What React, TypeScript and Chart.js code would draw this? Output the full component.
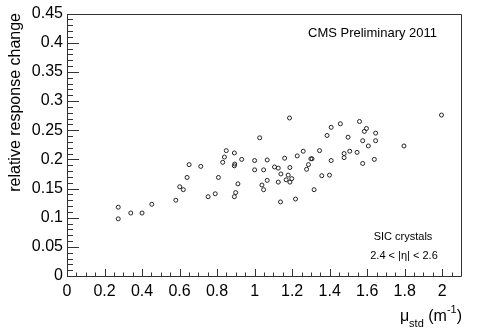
import React, { useEffect, useRef } from "react";
import { Chart, registerables } from "chart.js";

Chart.register(...registerables);

const xValues = [
  0.273, 0.273, 0.34, 0.4, 0.452, 0.58, 0.601, 0.62, 0.64, 0.752, 0.79, 0.807,
  1.186, 1.027, 1.408, 1.386, 0.849, 0.892, 0.839, 0.83, 0.931, 0.892, 0.894,
  0.651, 0.713, 0.911, 0.899, 0.892, 1.0, 1.067, 1.0, 1.048, 1.067, 1.039,
  1.048, 1.106, 1.126, 1.16, 1.14, 1.188, 1.179, 1.168, 1.198, 1.188, 1.126,
  1.227, 1.259, 1.3, 1.306, 1.287, 1.277, 1.346, 1.408, 1.358, 1.399, 1.317,
  1.138, 1.218, 1.996, 1.796, 1.559, 1.457, 1.596, 1.585, 1.645, 1.498, 1.576,
  1.645, 1.606, 1.507, 1.546, 1.477, 1.477, 1.638, 1.576,
];
const yValues = [
  0.118, 0.098, 0.108, 0.108, 0.123, 0.13, 0.153, 0.148, 0.169, 0.136, 0.141,
  0.169, 0.271, 0.237, 0.255, 0.241, 0.215, 0.211, 0.204, 0.195, 0.2, 0.189,
  0.192, 0.191, 0.188, 0.158, 0.143, 0.136, 0.198, 0.199, 0.182, 0.182, 0.164,
  0.156, 0.148, 0.187, 0.185, 0.202, 0.175, 0.186, 0.173, 0.165, 0.167, 0.161,
  0.161, 0.206, 0.214, 0.201, 0.201, 0.191, 0.183, 0.215, 0.198, 0.172, 0.173,
  0.148, 0.127, 0.132, 0.276, 0.223, 0.265, 0.261, 0.253, 0.248, 0.245, 0.238,
  0.232, 0.232, 0.223, 0.214, 0.212, 0.21, 0.203, 0.2, 0.193,
];
const xTickLabels = [0, 0.2, 0.4, 0.6, 0.8, 1, 1.2, 1.4, 1.6, 1.8, 2];
const yTickLabels = [0, 0.05, 0.1, 0.15, 0.2, 0.25, 0.3, 0.35, 0.4, 0.45];
const yTitle = "relative response change";
const cmsLabel = "CMS Preliminary 2011";
const infoLines = ["SIC crystals", "2.4 < |η| < 2.6"];

const FONT = '"Liberation Sans", Arial, Helvetica, sans-serif';

const decorPlugin = {
  id: "decor",
  afterDraw(chart: any) {
    const { ctx, chartArea } = chart;
    const { left, right, top, bottom } = chartArea;
    const xs = chart.scales.x;
    const ys = chart.scales.y;
    ctx.save();
    // frame
    ctx.strokeStyle = "#333";
    ctx.lineWidth = 1;
    ctx.beginPath();
    ctx.moveTo(Math.round(left) + 0.5, Math.round(bottom) + 0.5);
    ctx.lineTo(Math.round(left) + 0.5, Math.round(top) + 0.5);
    ctx.lineTo(Math.round(right) + 0.5, Math.round(top) + 0.5);
    ctx.lineTo(Math.round(right) + 0.5, Math.round(bottom) + 0.5);
    ctx.closePath();
    ctx.stroke();
    // y ticks
    ctx.beginPath();
    for (let i = 0; i <= 45; i++) {
      const v = i * 0.01;
      const py = Math.round(ys.getPixelForValue(v)) + 0.5;
      const len = i % 5 === 0 ? 12 : 6;
      ctx.moveTo(left, py);
      ctx.lineTo(left + len, py);
    }
    // x ticks
    for (let i = 0; i <= 42; i++) {
      const v = i * 0.05;
      const px = Math.round(xs.getPixelForValue(v)) + 0.5;
      const len = i % 4 === 0 ? 7 : 3.5;
      ctx.moveTo(px, bottom);
      ctx.lineTo(px, bottom - len);
    }
    ctx.stroke();

    ctx.fillStyle = "#000";
    // y title
    ctx.save();
    ctx.translate(16, 13);
    ctx.rotate(-Math.PI / 2);
    ctx.font = `16px ${FONT}`;
    ctx.textAlign = "right";
    ctx.textBaseline = "middle";
    ctx.fillText(yTitle, 0, 0);
    ctx.restore();

    // x title: mu_std (m^-1), right aligned to right edge
    const big = `16px ${FONT}`;
    const small = `11px ${FONT}`;
    const parts = [
      { t: "μ", f: big, dy: 0 },
      { t: "std", f: small, dy: 6 },
      { t: " (m", f: big, dy: 0 },
      { t: "-1", f: small, dy: -8 },
      { t: ")", f: big, dy: 0 },
    ];
    let total = 0;
    const widths = parts.map((p) => {
      ctx.font = p.f;
      const w = ctx.measureText(p.t).width;
      total += w;
      return w;
    });
    let cx = right + 1 - total;
    const base = 321;
    ctx.textAlign = "left";
    ctx.textBaseline = "alphabetic";
    parts.forEach((p, i) => {
      ctx.font = p.f;
      ctx.fillText(p.t, cx, base + p.dy);
      cx += widths[i];
    });

    // CMS label
    ctx.font = `13px ${FONT}`;
    ctx.textAlign = "left";
    ctx.textBaseline = "middle";
    ctx.fillText(cmsLabel, 308, 33);

    // info lines
    ctx.font = `11px ${FONT}`;
    ctx.textAlign = "center";
    ctx.fillText(infoLines[0], 403, 237);
    ctx.fillText(infoLines[1], 404, 256);
    ctx.restore();
  },
};

export default function App() {
  const ref = useRef<HTMLCanvasElement>(null);
  useEffect(() => {
    if (!ref.current) return;
    const data = xValues.map((x, i) => ({ x, y: yValues[i] }));
    const chart = new Chart(ref.current, {
      type: "scatter",
      data: {
        datasets: [
          {
            data,
            pointStyle: "circle",
            pointRadius: 2,
            pointBorderWidth: 1,
            borderColor: "#222",
            backgroundColor: "rgba(0,0,0,0)",
          },
        ],
      },
      options: {
        animation: false,
        responsive: false,
        maintainAspectRatio: false,
        layout: { padding: { top: 13, right: 24, left: 0, bottom: 0 } },
        plugins: { legend: { display: false }, tooltip: { enabled: false } },
        scales: {
          x: {
            type: "linear",
            min: 0,
            max: 2.1,
            grid: { display: false, drawTicks: false },
            border: { display: false },
            afterBuildTicks: (s: any) => {
              s.ticks = xTickLabels.map((v) => ({ value: v }));
            },
            afterFit: (s: any) => {
              s.height = 57;
            },
            ticks: {
              padding: 6,
              color: "#000",
              font: { family: FONT, size: 16 },
              maxRotation: 0,
              autoSkip: false,
              callback: (v: any) => String(parseFloat(Number(v).toFixed(2))),
            },
          },
          y: {
            type: "linear",
            min: 0,
            max: 0.45,
            grid: { display: false, drawTicks: false },
            border: { display: false },
            afterBuildTicks: (s: any) => {
              s.ticks = yTickLabels.map((v) => ({ value: v }));
            },
            afterFit: (s: any) => {
              s.width = 67;
            },
            ticks: {
              padding: 4,
              color: "#000",
              font: { family: FONT, size: 16 },
              autoSkip: false,
              callback: (v: any) => String(parseFloat(Number(v).toFixed(2))),
            },
          },
        },
      },
      plugins: [decorPlugin],
    });
    return () => chart.destroy();
  }, []);
  return (
    <div style={{ position: "fixed", left: 0, top: 0, width: 485, height: 333, background: "#fff" }}>
      <canvas ref={ref} width={485} height={333} style={{ width: 485, height: 333 }} />
    </div>
  );
}
